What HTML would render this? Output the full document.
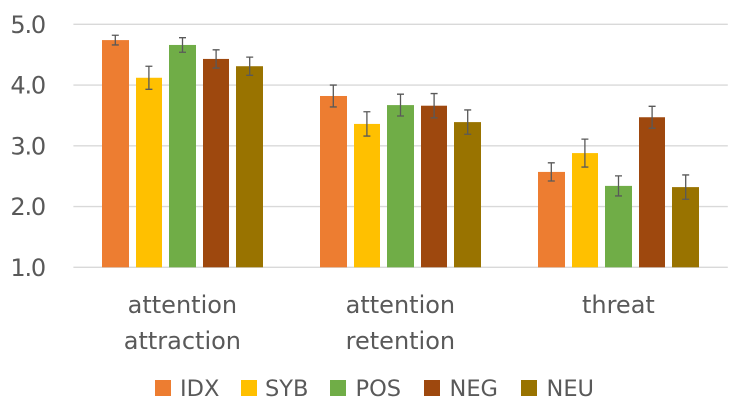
<!DOCTYPE html>
<html>
<head>
<meta charset="utf-8">
<style>
html,body{margin:0;padding:0;background:#fff;width:742px;height:418px;overflow:hidden}
svg{display:block}
text{font-family:"DejaVu Sans","Liberation Sans",sans-serif;fill:#595959}
</style>
</head>
<body>
<svg id="chart" width="742" height="418" viewBox="0 0 742 418" xmlns="http://www.w3.org/2000/svg">
  <rect x="0" y="0" width="742" height="418" fill="#ffffff"/>
  <g id="grid"></g>
  <g id="yticks"></g>
  <g id="bars"></g>
  <g id="errs"></g>
  <g id="xticks"></g>
  <g id="legend"></g>
</svg>
<script>
const categories = [["attention", "attraction"], ["attention", "retention"], ["threat"]];
const seriesNames = ["IDX", "SYB", "POS", "NEG", "NEU"];
const idxValues = [4.74, 3.82, 2.57];
const sybValues = [4.12, 3.36, 2.88];
const posValues = [4.66, 3.67, 2.34];
const negValues = [4.43, 3.66, 3.47];
const neuValues = [4.31, 3.39, 2.32];
const idxErrors = [0.08, 0.18, 0.15];
const sybErrors = [0.19, 0.20, 0.23];
const posErrors = [0.12, 0.18, 0.165];
const negErrors = [0.15, 0.20, 0.18];
const neuErrors = [0.15, 0.20, 0.20];
const yTicks = [1, 2, 3, 4, 5];
const yTickLabels = ["1.0", "2.0", "3.0", "4.0", "5.0"];

const seriesValues = [idxValues, sybValues, posValues, negValues, neuValues];
const seriesErrors = [idxErrors, sybErrors, posErrors, negErrors, neuErrors];
const seriesColors = ["#ED7D31", "#FFC000", "#70AD47", "#9E480E", "#997300"];
const legendSwatchLeft = [155, 241, 330, 424, 521];
const legendTextLeft = [180, 265, 355.5, 449.5, 546.5];

const NS = "http://www.w3.org/2000/svg";
const plotLeft = 73.4, plotRight = 727.8, bandWidth = 218;
const pitch = 33.6, barWidth = 26.6;
function yScale(v) { return 267.3 - (v - 1) * 60.75; }
function xBand(i) { return plotLeft + bandWidth * (i + 0.5); }
function xBar(c, s) { return xBand(c) + (s - 2) * pitch - 13.2; }
function make(tag, attrs, parent) {
  const el = document.createElementNS(NS, tag);
  for (const k in attrs) el.setAttribute(k, attrs[k]);
  parent.appendChild(el);
  return el;
}

const grid = document.getElementById("grid");
const yt = document.getElementById("yticks");
yTicks.forEach(function (t, i) {
  const y = yScale(t);
  const line = make("line", { x1: plotLeft, x2: plotRight, y1: y, y2: y, stroke: "#d9d9d9", "stroke-width": 1.4 }, grid);
  
  
  const label = make("text", { x: 45, y: y + 8.6, "text-anchor": "end", "font-size": 24, "letter-spacing": "-1.2" }, yt);
  label.textContent = yTickLabels[i];
  
  
});

const barsG = document.getElementById("bars");
const errsG = document.getElementById("errs");
seriesValues.forEach(function (vals, s) {
  vals.forEach(function (v, c) {
    const left = Math.round(xBar(c, s));
    const right = Math.round(xBar(c, s) + barWidth);
    const top = yScale(v);
    const base = yScale(1);
    const bar = make("rect", { x: left, y: top, width: right - left, height: base - top, fill: seriesColors[s] }, barsG);
    
    

    const cx = xBar(c, s) + barWidth / 2;
    const e = seriesErrors[s][c];
    const y1 = yScale(v + e), y2 = yScale(v - e);
    const err = make("path", {
      d: "M" + cx + " " + y1 + "V" + y2 + "M" + (cx - 3.5) + " " + y1 + "H" + (cx + 3.5) + "M" + (cx - 3.5) + " " + y2 + "H" + (cx + 3.5),
      stroke: "#595959", "stroke-width": 1.3, fill: "none"
    }, errsG);
    
    
  });
});

const xt = document.getElementById("xticks");
categories.forEach(function (lines, c) {
  lines.forEach(function (line, j) {
    const t = make("text", { x: xBand(c), y: 313 + j * 36, "text-anchor": "middle", "font-size": 24 }, xt);
    t.textContent = line;
    
    
  });
});

const legend = document.getElementById("legend");
seriesNames.forEach(function (name, s) {
  const sw = make("rect", { x: legendSwatchLeft[s], y: 380, width: 16, height: 16, fill: seriesColors[s] }, legend);
  
  
  const t = make("text", { x: legendTextLeft[s], y: 396, "font-size": 22.5 }, legend);
  t.textContent = name;
  
  
});
</script>
</body>
</html>
